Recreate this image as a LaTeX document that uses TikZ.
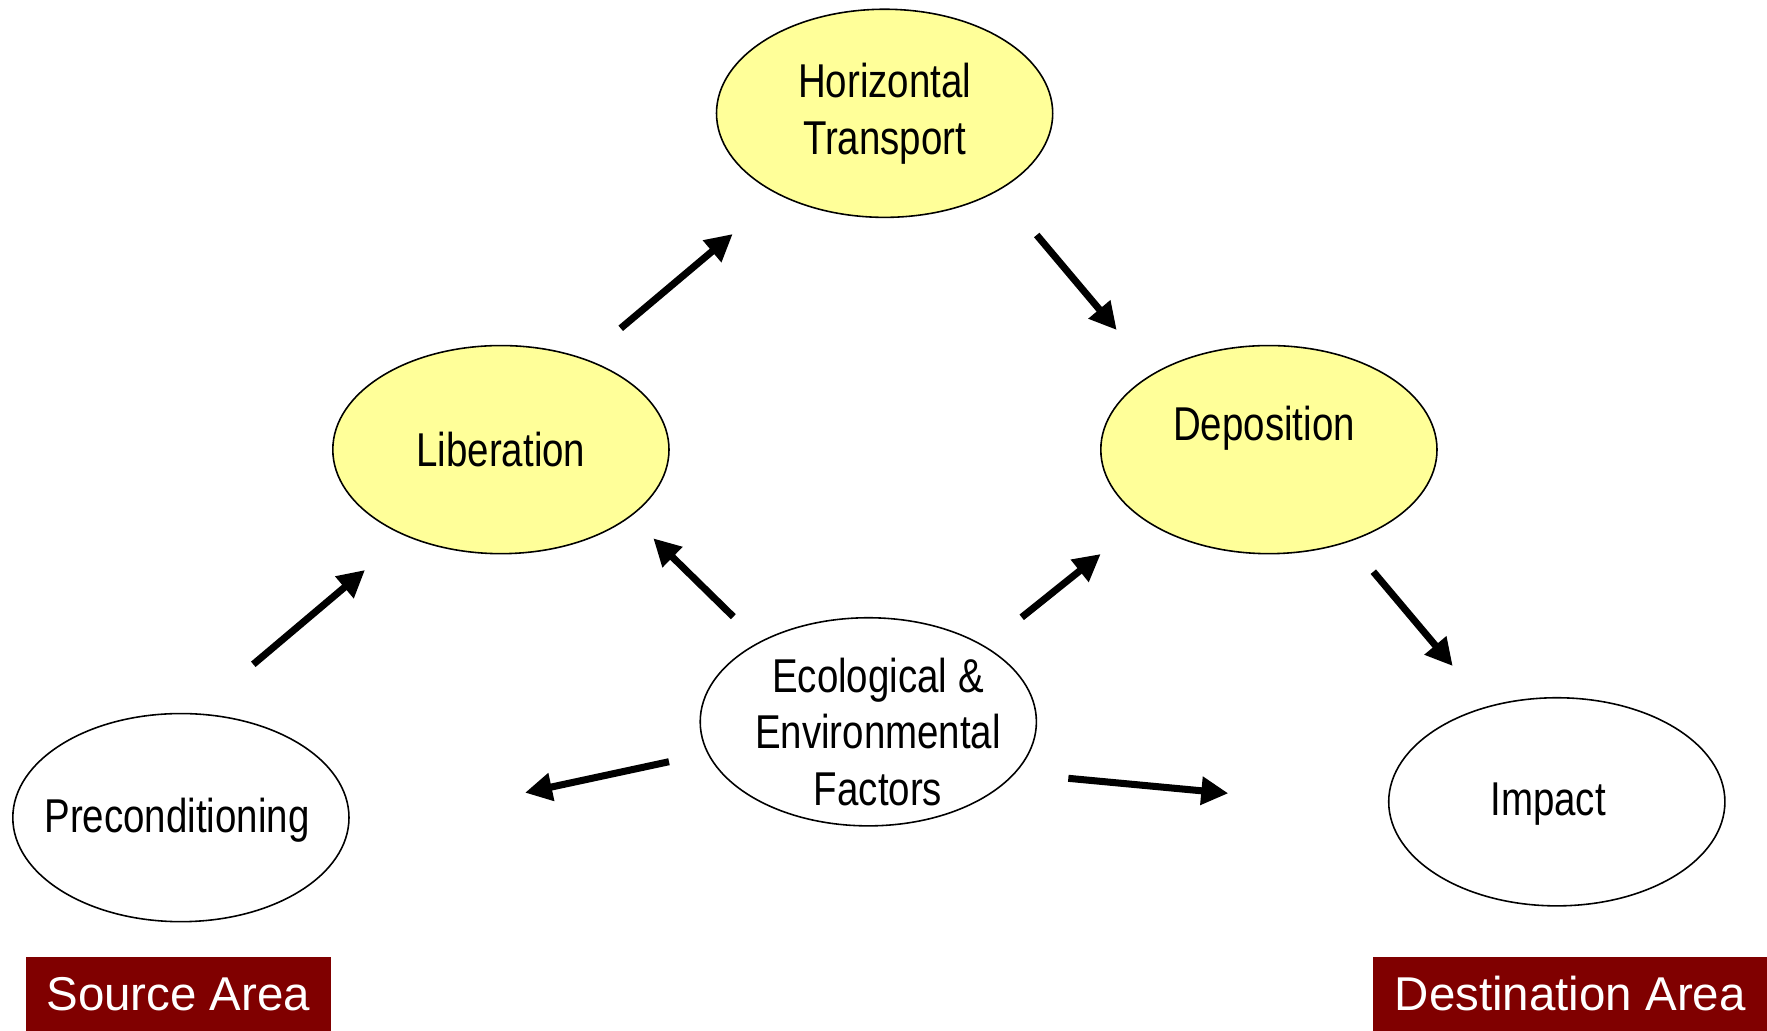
\documentclass[tikz,border=0pt]{standalone}
\usepackage{fontspec}
\setmainfont{Liberation Sans}
\newfontfamily\ovalfont[FakeStretch=0.81]{Liberation Sans}
\usetikzlibrary{shapes.geometric,arrows.meta}
\definecolor{paleyellow}{RGB}{255,255,153}
\definecolor{areared}{RGB}{128,0,0}

\begin{document}
\begin{tikzpicture}[x=0.01cm,y=-0.01cm,
  oval/.style={draw=black, line width=0.45pt, ellipse, minimum width=3.36cm,
               minimum height=2.08cm, inner sep=0pt},
  stage/.style={oval, fill=paleyellow},
  plainoval/.style={oval, fill=white},
  ovaltext/.style={align=center, inner sep=0pt,
                   font=\ovalfont\fontsize{13.5}{16.2}\selectfont},
  flow/.style={line width=2pt, -{Triangle[length=0.27cm,width=0.27cm]}},
  areabox/.style={fill=areared, text=white, inner sep=0pt, anchor=north west,
                  font=\fontsize{13.5}{16}\selectfont}]
\useasboundingbox (0,0) rectangle (1767,1030);

% process stages
\node[stage] (trans) at (884.6,113.3) {};
\node[ovaltext] (transtxt) at (trans) {Horizontal\\Transport};
\node[stage] (lib) at (500.9,449.6) {};
\node[ovaltext] (libtxt) at (lib) {Liberation};
\node[stage] (dep) at (1268.9,449.6) {};
\node[ovaltext] (deptxt) at (1264,428) {Deposition};

% surrounding conditions
\node[plainoval] (eco) at (868.3,721.8) {};
\node[ovaltext] (ecotxt) at (878,732) {Ecological \&\\Environmental\\Factors};
\node[plainoval] (pre) at (180.9,817.6) {};
\node[ovaltext] (pretxt) at (177,820) {Preconditioning};
\node[plainoval] (imp) at (1556.8,801.8) {};
\node[ovaltext] (imptxt) at (1548,804) {Impact};

% area labels
\node[areabox, minimum width=3.05cm, minimum height=0.74cm] (src) at (25,956) {Source Area};
\node[areabox, minimum width=3.95cm, minimum height=0.74cm] (dst) at (1372,956) {Destination Area};

% arrow end points
\coordinate (a1s) at (253.3,664.3);   \coordinate (a1e) at (365,570);
\coordinate (a2s) at (620.7,328.3);   \coordinate (a2e) at (732.7,234);
\coordinate (a3s) at (1036.7,235);    \coordinate (a3e) at (1116.7,330);
\coordinate (a4s) at (1373.3,571.7);  \coordinate (a4e) at (1452.7,666);
\coordinate (a5s) at (733.3,616.7);   \coordinate (a5e) at (653.3,538.3);
\coordinate (a6s) at (1021.7,617.3);  \coordinate (a6e) at (1100.7,554);
\coordinate (a7s) at (669,761.7);     \coordinate (a7e) at (525,792.7);
\coordinate (a8s) at (1068.3,778.3);  \coordinate (a8e) at (1228.3,793.3);

% flows
\draw[flow] (a1s) -- (a1e);
\draw[flow] (a2s) -- (a2e);
\draw[flow] (a3s) -- (a3e);
\draw[flow] (a4s) -- (a4e);
\draw[flow] (a5s) -- (a5e);
\draw[flow] (a6s) -- (a6e);
\draw[flow] (a7s) -- (a7e);
\draw[flow] (a8s) -- (a8e);
\end{tikzpicture}
\end{document}
